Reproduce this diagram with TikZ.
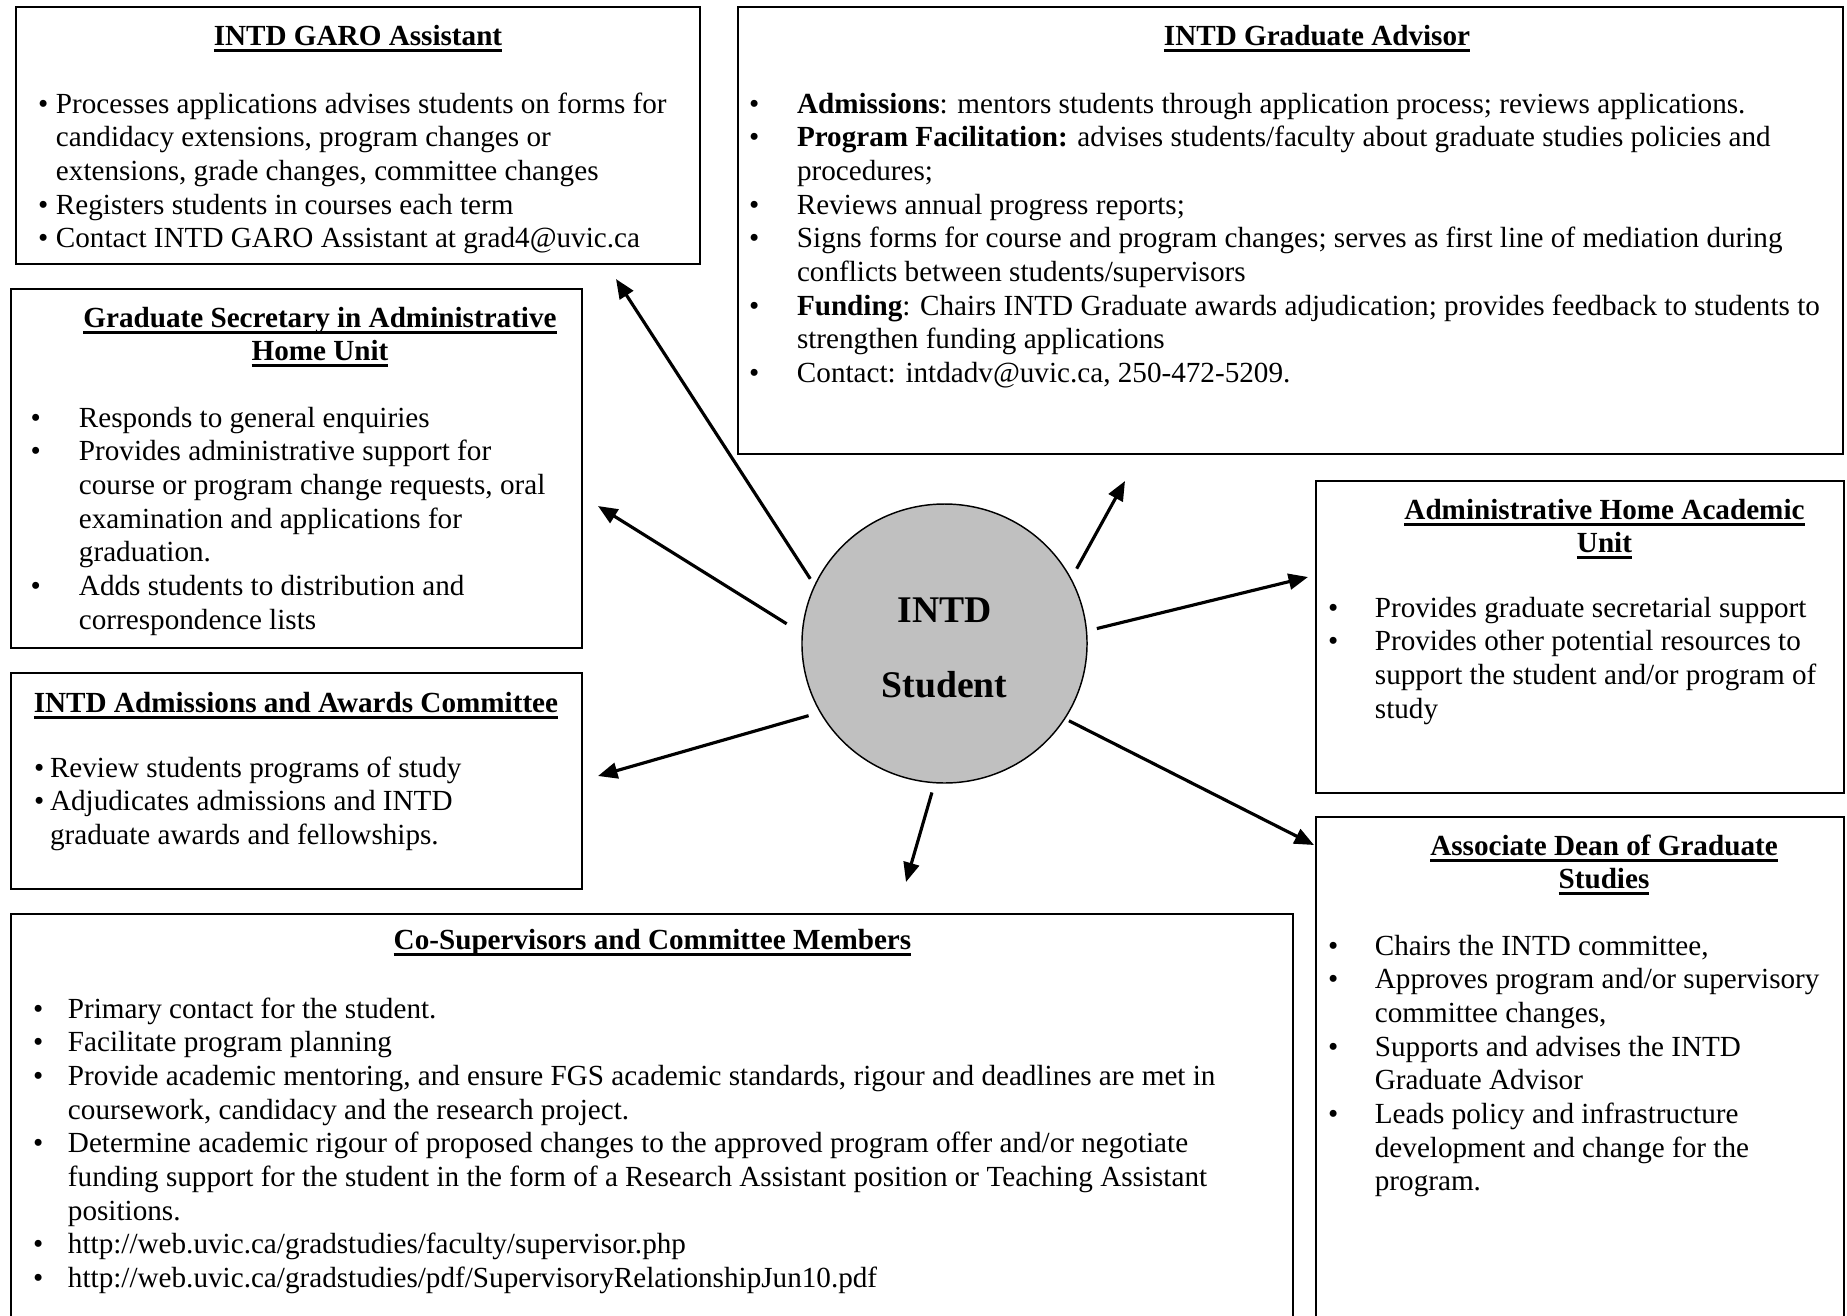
\documentclass[tikz,border=0pt]{standalone}
\usepackage{fontspec}
\setmainfont{Liberation Serif}
\usetikzlibrary{arrows.meta,shapes.geometric,fit}
\definecolor{stugray}{HTML}{C0C0C0}
\newsavebox{\ulbox}
\newcommand{\myul}[1]{\sbox{\ulbox}{#1}\rlap{\rule[-2.7pt]{\wd\ulbox}{1.1pt}}\usebox{\ulbox}}
\newcommand{\blist}[2]{\begin{tabular}[t]{@{}p{#1}@{}l@{}}#2\end{tabular}}
\newcommand{\bu}{\textbullet}
\begin{document}
\begin{tikzpicture}[x=0.4115pt,y=-0.4115pt,
  box/.style={draw=black, line width=0.8pt, inner sep=0pt, outer sep=0pt},
  body/.style={inner sep=0pt, outer sep=0pt, anchor=base west, font=\fontsize{12}{13.87}\selectfont},
  ttl/.style={inner sep=0pt, outer sep=0pt, anchor=base, font=\fontsize{12}{13.87}\selectfont\bfseries},
  bigtxt/.style={inner sep=0pt, outer sep=0pt, anchor=base, font=\fontsize{15.5}{18}\selectfont\bfseries},
  arr/.style={line width=1.3pt, -{Triangle[length=8pt,width=6.5pt]}},
  stushape/.style={ellipse, draw=black, fill=stugray, line width=0.6pt, minimum width=117.3pt, minimum height=114.8pt, inner sep=0pt, outer sep=0pt}]
\useasboundingbox (0,0) rectangle (1847,1316);

% boxes
\node[box, fit={(16,7) (700,264)}] (garo) {};
\node[box, fit={(738,7) (1843,454)}] (adv) {};
\node[box, fit={(11,289) (582,648)}] (sec) {};
\node[box, fit={(11,673) (582,889)}] (adm) {};
\node[box, fit={(1316,481) (1844,793)}] (home) {};
\node[box, fit={(1316,817) (1844,1330)}] (dean) {};
\node[box, fit={(11,914) (1293,1330)}] (cosup) {};

% student
\node[stushape] (stu) at (944.5,643.5) {};
\node[bigtxt] (stuA) at (944.5,622) {INTD};
\node[bigtxt] (stuB) at (944.5,697) {Student};

% arrow tips
\coordinate (e1) at (616,279);
\coordinate (e2) at (598,506);
\coordinate (e3) at (598,776);
\coordinate (e4) at (906,882);
\coordinate (e5) at (1125,481);
\coordinate (e6) at (1308,577);
\coordinate (e7) at (1314,845);
\draw[arr, shorten <=3.4pt] (stu.156) -- (e1);
\draw[arr, shorten <=7.6pt] (stu.176) -- (e2);
\draw[arr, shorten <=5.1pt] (stu.209) -- (e3);
\draw[arr, shorten <=4.2pt] (stu.266) -- (e4);
\draw[arr, shorten <=4.9pt] (stu.27) -- (e5);
\draw[arr, shorten <=4.4pt] (stu.5) -- (e6);
\draw[arr, shorten <=2pt] (stu.328) -- (e7);

% GARO
\node[ttl] (garoT) at (358,45.5) {\myul{INTD GARO Assistant}};
\node[body] (garoB) at (38,113) {\blist{7.4pt}{%
\bu & Processes applications advises students on forms for\\
 & candidacy extensions, program changes or\\
 & extensions, grade changes, committee changes\\
\bu & Registers students in courses each term\\
\bu & Contact INTD GARO Assistant at grad4@uvic.ca}};

% Graduate Advisor
\node[ttl] (advT) at (1317,45.5) {\myul{INTD Graduate Advisor}};
\node[body] (advB) at (749,113) {\blist{19.75pt}{%
\bu & \textbf{Admissions}: mentors students through application process; reviews applications.\\
\bu & \textbf{Program Facilitation:} advises students/faculty about graduate studies policies and\\
 & procedures;\\
\bu & Reviews annual progress reports;\\
\bu & Signs forms for course and program changes; serves as first line of mediation during\\
 & conflicts between students/supervisors\\
\bu & \textbf{Funding}: Chairs INTD Graduate awards adjudication; provides feedback to students to\\
 & strengthen funding applications\\
\bu & Contact: intdadv@uvic.ca, 250-472-5209.}};

% Graduate Secretary
\node[ttl] (secT1) at (320,327.5) {\myul{Graduate Secretary in Administrative}};
\node[ttl] (secT2) at (320,360) {\myul{Home Unit}};
\node[body] (secB) at (30.6,427) {\blist{19.9pt}{%
\bu & Responds to general enquiries\\
\bu & Provides administrative support for\\
 & course or program change requests, oral\\
 & examination and applications for\\
 & graduation.\\
\bu & Adds students to distribution and\\
 & correspondence lists}};

% Admissions and Awards
\node[ttl] (admT) at (296,712) {\myul{INTD Admissions and Awards Committee}};
\node[body] (admB) at (34,777) {\blist{6.6pt}{%
\bu & Review students programs of study\\
\bu & Adjudicates admissions and INTD\\
 & graduate awards and fellowships.}};

% Administrative Home Academic Unit
\node[ttl] (homeT1) at (1604.5,519) {\myul{Administrative Home Academic}};
\node[ttl] (homeT2) at (1604.5,552) {\myul{Unit}};
\node[body] (homeB) at (1328,617) {\blist{19.3pt}{%
\bu & Provides graduate secretarial support\\
\bu & Provides other potential resources to\\
 & support the student and/or program of\\
 & study}};

% Associate Dean
\node[ttl] (deanT1) at (1604,855) {\myul{Associate Dean of Graduate}};
\node[ttl] (deanT2) at (1604,888) {\myul{Studies}};
\node[body] (deanB) at (1328,955) {\blist{19.3pt}{%
\bu & Chairs the INTD committee,\\
\bu & Approves program and/or supervisory\\
 & committee changes,\\
\bu & Supports and advises the INTD\\
 & Graduate Advisor\\
\bu & Leads policy and infrastructure\\
 & development and change for the\\
 & program.}};

% Co-Supervisors
\node[ttl] (cosT) at (652.5,949) {\myul{Co-Supervisors and Committee Members}};
\node[body] (cosB) at (33,1018) {\blist{14.4pt}{%
\bu & Primary contact for the student.\\
\bu & Facilitate program planning\\
\bu & Provide academic mentoring, and ensure FGS academic standards, rigour and deadlines are met in\\
 & coursework, candidacy and the research project.\\
\bu & Determine academic rigour of proposed changes to the approved program offer and/or negotiate\\
 & funding support for the student in the form of a Research Assistant position or Teaching Assistant\\
 & positions.\\
\bu & http://web.uvic.ca/gradstudies/faculty/supervisor.php\\
\bu & http://web.uvic.ca/gradstudies/pdf/SupervisoryRelationshipJun10.pdf}};
\end{tikzpicture}
\end{document}
